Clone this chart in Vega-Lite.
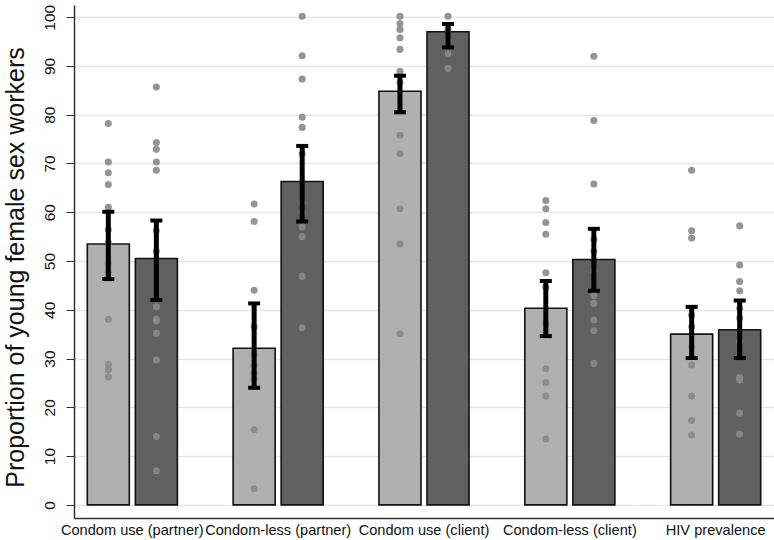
{
  "$schema": "https://vega.github.io/schema/vega-lite/v6.json",
  "autosize": {"type": "none"},
  "padding": {"left": 74, "top": 5, "right": 0, "bottom": 22},
  "width": 700,
  "height": 513,
  "background": "white",
  "config": {
    "view": {"stroke": null},
    "font": "Liberation Sans"
  },
  "datasets": {
    "bars": [
      {"group": "Condom use (partner)", "cond": "A", "mean": 53.5, "lo": 46.3, "hi": 60.1},
      {"group": "Condom use (partner)", "cond": "B", "mean": 50.5, "lo": 42.0, "hi": 58.3},
      {"group": "Condom-less (partner)", "cond": "A", "mean": 32.1, "lo": 24.0, "hi": 41.3},
      {"group": "Condom-less (partner)", "cond": "B", "mean": 66.3, "lo": 58.1, "hi": 73.6},
      {"group": "Condom use (client)", "cond": "A", "mean": 84.8, "lo": 80.5, "hi": 88.0},
      {"group": "Condom use (client)", "cond": "B", "mean": 97.0, "lo": 93.8, "hi": 98.6},
      {"group": "Condom-less (client)", "cond": "A", "mean": 40.3, "lo": 34.6, "hi": 45.9},
      {"group": "Condom-less (client)", "cond": "B", "mean": 50.3, "lo": 43.9, "hi": 56.6},
      {"group": "HIV prevalence", "cond": "A", "mean": 35.0, "lo": 30.1, "hi": 40.6},
      {"group": "HIV prevalence", "cond": "B", "mean": 35.9, "lo": 30.1, "hi": 41.9}
    ],
    "points": [
      {"group": "Condom use (partner)", "cond": "A", "value": 78.2},
      {"group": "Condom use (partner)", "cond": "A", "value": 70.3},
      {"group": "Condom use (partner)", "cond": "A", "value": 68.1},
      {"group": "Condom use (partner)", "cond": "A", "value": 65.7},
      {"group": "Condom use (partner)", "cond": "A", "value": 61.0},
      {"group": "Condom use (partner)", "cond": "A", "value": 56.4},
      {"group": "Condom use (partner)", "cond": "A", "value": 53.8},
      {"group": "Condom use (partner)", "cond": "A", "value": 49.5},
      {"group": "Condom use (partner)", "cond": "A", "value": 47.7},
      {"group": "Condom use (partner)", "cond": "A", "value": 38.0},
      {"group": "Condom use (partner)", "cond": "A", "value": 28.8},
      {"group": "Condom use (partner)", "cond": "A", "value": 27.7},
      {"group": "Condom use (partner)", "cond": "A", "value": 26.2},
      {"group": "Condom use (partner)", "cond": "B", "value": 85.7},
      {"group": "Condom use (partner)", "cond": "B", "value": 74.3},
      {"group": "Condom use (partner)", "cond": "B", "value": 72.9},
      {"group": "Condom use (partner)", "cond": "B", "value": 70.3},
      {"group": "Condom use (partner)", "cond": "B", "value": 68.6},
      {"group": "Condom use (partner)", "cond": "B", "value": 56.2},
      {"group": "Condom use (partner)", "cond": "B", "value": 52.0},
      {"group": "Condom use (partner)", "cond": "B", "value": 40.6},
      {"group": "Condom use (partner)", "cond": "B", "value": 38.1},
      {"group": "Condom use (partner)", "cond": "B", "value": 37.7},
      {"group": "Condom use (partner)", "cond": "B", "value": 35.2},
      {"group": "Condom use (partner)", "cond": "B", "value": 29.7},
      {"group": "Condom use (partner)", "cond": "B", "value": 14.0},
      {"group": "Condom use (partner)", "cond": "B", "value": 7.0},
      {"group": "Condom-less (partner)", "cond": "A", "value": 61.7},
      {"group": "Condom-less (partner)", "cond": "A", "value": 58.1},
      {"group": "Condom-less (partner)", "cond": "A", "value": 44.0},
      {"group": "Condom-less (partner)", "cond": "A", "value": 36.5},
      {"group": "Condom-less (partner)", "cond": "A", "value": 30.9},
      {"group": "Condom-less (partner)", "cond": "A", "value": 28.5},
      {"group": "Condom-less (partner)", "cond": "A", "value": 27.0},
      {"group": "Condom-less (partner)", "cond": "A", "value": 25.8},
      {"group": "Condom-less (partner)", "cond": "A", "value": 15.4},
      {"group": "Condom-less (partner)", "cond": "A", "value": 3.3},
      {"group": "Condom-less (partner)", "cond": "B", "value": 100.2},
      {"group": "Condom-less (partner)", "cond": "B", "value": 92.1},
      {"group": "Condom-less (partner)", "cond": "B", "value": 87.3},
      {"group": "Condom-less (partner)", "cond": "B", "value": 79.5},
      {"group": "Condom-less (partner)", "cond": "B", "value": 77.4},
      {"group": "Condom-less (partner)", "cond": "B", "value": 72.0},
      {"group": "Condom-less (partner)", "cond": "B", "value": 62.0},
      {"group": "Condom-less (partner)", "cond": "B", "value": 60.0},
      {"group": "Condom-less (partner)", "cond": "B", "value": 57.0},
      {"group": "Condom-less (partner)", "cond": "B", "value": 55.0},
      {"group": "Condom-less (partner)", "cond": "B", "value": 46.9},
      {"group": "Condom-less (partner)", "cond": "B", "value": 36.3},
      {"group": "Condom use (client)", "cond": "A", "value": 100.2},
      {"group": "Condom use (client)", "cond": "A", "value": 98.7},
      {"group": "Condom use (client)", "cond": "A", "value": 97.5},
      {"group": "Condom use (client)", "cond": "A", "value": 95.8},
      {"group": "Condom use (client)", "cond": "A", "value": 93.4},
      {"group": "Condom use (client)", "cond": "A", "value": 88.9},
      {"group": "Condom use (client)", "cond": "A", "value": 86.6},
      {"group": "Condom use (client)", "cond": "A", "value": 75.8},
      {"group": "Condom use (client)", "cond": "A", "value": 72.0},
      {"group": "Condom use (client)", "cond": "A", "value": 60.7},
      {"group": "Condom use (client)", "cond": "A", "value": 53.5},
      {"group": "Condom use (client)", "cond": "A", "value": 35.1},
      {"group": "Condom use (client)", "cond": "B", "value": 100.2},
      {"group": "Condom use (client)", "cond": "B", "value": 97.5},
      {"group": "Condom use (client)", "cond": "B", "value": 95.0},
      {"group": "Condom use (client)", "cond": "B", "value": 92.6},
      {"group": "Condom use (client)", "cond": "B", "value": 89.5},
      {"group": "Condom-less (client)", "cond": "A", "value": 62.4},
      {"group": "Condom-less (client)", "cond": "A", "value": 60.7},
      {"group": "Condom-less (client)", "cond": "A", "value": 57.9},
      {"group": "Condom-less (client)", "cond": "A", "value": 55.5},
      {"group": "Condom-less (client)", "cond": "A", "value": 47.6},
      {"group": "Condom-less (client)", "cond": "A", "value": 44.6},
      {"group": "Condom-less (client)", "cond": "A", "value": 37.2},
      {"group": "Condom-less (client)", "cond": "A", "value": 27.9},
      {"group": "Condom-less (client)", "cond": "A", "value": 25.1},
      {"group": "Condom-less (client)", "cond": "A", "value": 22.3},
      {"group": "Condom-less (client)", "cond": "A", "value": 13.5},
      {"group": "Condom-less (client)", "cond": "B", "value": 92.0},
      {"group": "Condom-less (client)", "cond": "B", "value": 78.8},
      {"group": "Condom-less (client)", "cond": "B", "value": 65.8},
      {"group": "Condom-less (client)", "cond": "B", "value": 54.4},
      {"group": "Condom-less (client)", "cond": "B", "value": 52.0},
      {"group": "Condom-less (client)", "cond": "B", "value": 48.0},
      {"group": "Condom-less (client)", "cond": "B", "value": 42.9},
      {"group": "Condom-less (client)", "cond": "B", "value": 41.3},
      {"group": "Condom-less (client)", "cond": "B", "value": 37.9},
      {"group": "Condom-less (client)", "cond": "B", "value": 35.7},
      {"group": "Condom-less (client)", "cond": "B", "value": 29.0},
      {"group": "HIV prevalence", "cond": "A", "value": 68.6},
      {"group": "HIV prevalence", "cond": "A", "value": 56.2},
      {"group": "HIV prevalence", "cond": "A", "value": 54.7},
      {"group": "HIV prevalence", "cond": "A", "value": 38.9},
      {"group": "HIV prevalence", "cond": "A", "value": 36.5},
      {"group": "HIV prevalence", "cond": "A", "value": 32.4},
      {"group": "HIV prevalence", "cond": "A", "value": 28.7},
      {"group": "HIV prevalence", "cond": "A", "value": 22.3},
      {"group": "HIV prevalence", "cond": "A", "value": 17.3},
      {"group": "HIV prevalence", "cond": "A", "value": 14.3},
      {"group": "HIV prevalence", "cond": "B", "value": 57.2},
      {"group": "HIV prevalence", "cond": "B", "value": 49.2},
      {"group": "HIV prevalence", "cond": "B", "value": 45.8},
      {"group": "HIV prevalence", "cond": "B", "value": 43.9},
      {"group": "HIV prevalence", "cond": "B", "value": 40.3},
      {"group": "HIV prevalence", "cond": "B", "value": 38.3},
      {"group": "HIV prevalence", "cond": "B", "value": 33.5},
      {"group": "HIV prevalence", "cond": "B", "value": 26.1},
      {"group": "HIV prevalence", "cond": "B", "value": 25.6},
      {"group": "HIV prevalence", "cond": "B", "value": 18.8},
      {"group": "HIV prevalence", "cond": "B", "value": 14.5}
    ]
  },
  "encoding": {
    "x": {
      "field": "group",
      "type": "nominal",
      "sort": ["Condom use (partner)", "Condom-less (partner)", "Condom use (client)", "Condom-less (client)", "HIV prevalence"],
      "scale": {"paddingInner": 0.3, "paddingOuter": 0.05},
      "axis": {
        "title": null,
        "labelAngle": 0,
        "labelFontSize": 14.6,
        "labelColor": "#111",
        "labelPadding": 4,
        "labelOverlap": false,
        "ticks": false,
        "domainColor": "#333",
        "domainWidth": 1.5,
        "grid": false
      }
    },
    "xOffset": {
      "field": "cond",
      "type": "nominal",
      "scale": {"paddingInner": 0.125, "paddingOuter": 0.125}
    }
  },
  "layer": [
    {
      "data": {"name": "bars"},
      "mark": {"type": "bar", "stroke": "#111", "strokeWidth": 1.6},
      "encoding": {
        "y": {
          "field": "mean",
          "type": "quantitative",
          "scale": {"domain": [-2.7, 102.5], "nice": false, "zero": false},
          "axis": {
            "title": "Proportion of young female sex workers",
            "titleFontSize": 25,
            "titleFontWeight": "normal",
            "titleColor": "#111",
            "titlePadding": 14,
            "titleY": 262,
            "values": [0, 10, 20, 30, 40, 50, 60, 70, 80, 90, 100],
            "labelAngle": -90,
            "labelAlign": "center",
            "labelBaseline": "bottom",
            "labelFontSize": 15.5,
            "labelColor": "#111",
            "labelPadding": 9,
            "tickSize": 8,
            "tickColor": "#333",
            "domainColor": "#333",
            "domainWidth": 1.5,
            "grid": true,
            "gridColor": "#e6e6e6",
            "gridWidth": 1.5
          }
        },
        "fill": {
          "field": "cond",
          "type": "nominal",
          "scale": {"domain": ["A", "B"], "range": ["#b0b0b0", "#606060"]},
          "legend": null
        }
      }
    },
    {
      "data": {"name": "points"},
      "mark": {"type": "circle", "size": 50, "color": "#8a8a8a", "opacity": 0.9},
      "encoding": {
        "y": {"field": "value", "type": "quantitative"}
      }
    },
    {
      "data": {"name": "bars"},
      "mark": {"type": "rule", "color": "black", "strokeWidth": 5},
      "encoding": {
        "y": {"field": "lo", "type": "quantitative"},
        "y2": {"field": "hi"}
      }
    },
    {
      "data": {"name": "bars"},
      "mark": {"type": "tick", "color": "black", "thickness": 4, "size": 12, "opacity": 1},
      "encoding": {
        "y": {"field": "lo", "type": "quantitative"}
      }
    },
    {
      "data": {"name": "bars"},
      "mark": {"type": "tick", "color": "black", "thickness": 4, "size": 12, "opacity": 1},
      "encoding": {
        "y": {"field": "hi", "type": "quantitative"}
      }
    }
  ]
}
